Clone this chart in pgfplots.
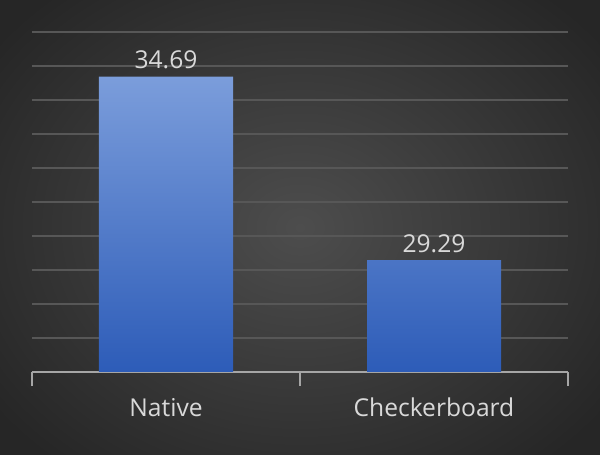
\documentclass[border=0pt]{standalone}
\usepackage{fontspec}
\setmainfont{Open Sans}
\usepackage{pgfplots}
\pgfplotsset{compat=1.18}

\definecolor{bgin}{HTML}{4D4D4D}
\definecolor{bgout}{HTML}{262626}
\definecolor{gridc}{HTML}{575757}
\definecolor{axisc}{HTML}{A6A6A6}
\definecolor{txt}{HTML}{D9D9D9}
\definecolor{bartop}{HTML}{7B9DDB}
\definecolor{barmid}{HTML}{4777CD}
\definecolor{barbot}{HTML}{2D5CB8}

\begin{document}
\begin{tikzpicture}
  % 1px = 0.5pt, picture 600x455 px
  \path[use as bounding box] (0,0) rectangle (300pt,227.5pt);
  \shade[inner color=bgin, outer color=bgout] (-40pt,-40pt) rectangle (340pt,267.5pt);

  \begin{axis}[
      at={(16pt,41.5pt)}, anchor=south west,
      scale only axis,
      width=268pt, height=170pt,
      ybar, bar width=0.5,
      xmin=-0.5, xmax=1.5,
      ymin=26, ymax=36,
      xtick={-0.5,0.5,1.5},
      xticklabels={},
      tick align=outside,
      major tick length=7pt,
      major x tick style={axisc, line width=1.2pt},
      extra x ticks={0,1},
      extra x tick labels={Native, Checkerboard},
      extra x tick style={major tick length=0pt, major x tick style={draw=none}},
      xticklabel style={txt, font=\fontsize{12.3}{14}\selectfont, yshift=-9.5pt},
      ytick={27,...,36},
      yticklabels={},
      major y tick style={draw=none},
      ymajorgrids,
      grid style={gridc, line width=0.8pt},
      axis x line*=bottom,
      axis y line*=left,
      y axis line style={draw=none},
      x axis line style={axisc, line width=1.2pt, -},
      nodes near coords,
      /pgf/number format/assume math mode=true,
      /pgf/number format/fixed,
      /pgf/number format/fixed zerofill,
      /pgf/number format/precision=2,
      every node near coord/.append style={txt, font=\fontsize{12.3}{14}\selectfont, inner sep=3.5pt},
    ]
    \addplot[draw=none, top color=bartop, middle color=barmid, bottom color=barbot]
      coordinates {(0,34.69) (1,29.29)};
  \end{axis}
\end{tikzpicture}
\end{document}
